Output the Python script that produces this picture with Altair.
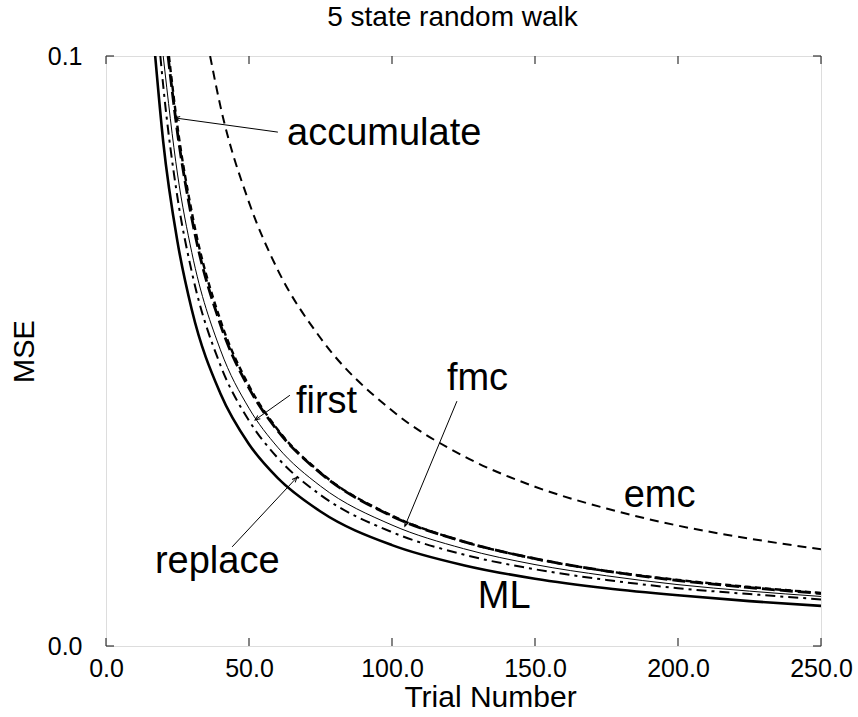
import math
import altair as alt
import pandas as pd

FONT = "Liberation Sans"
W, H = 715, 590

# ---- data ----
ml_n = [17.2, 20, 25, 30, 40, 50, 60, 75, 100, 125, 150, 175, 200, 225, 250]
ml_v = [0.100, 0.0855, 0.0685, 0.0570, 0.0428, 0.0342, 0.0285, 0.0228, 0.0171,
        0.0137, 0.0114, 0.0098, 0.0086, 0.0076, 0.0068]

replace_n = [19.0, 20, 25, 30, 40, 50, 60, 75, 100, 125, 150, 175, 200, 225, 250]
replace_v = [0.100, 0.0950, 0.0760, 0.0634, 0.0476, 0.0382, 0.0319, 0.0256, 0.0193,
             0.0155, 0.0130, 0.0112, 0.0098, 0.0088, 0.0079]

first_n = [20.0, 25, 30, 40, 50, 60, 75, 100, 125, 150, 175, 200, 225, 250]
first_v = [0.100, 0.0800, 0.0667, 0.0502, 0.0403, 0.0337, 0.0271, 0.0205,
           0.0165, 0.0138, 0.0119, 0.0104, 0.0093, 0.0084]

fmc_n = [21.7, 25, 30, 40, 50, 60, 75, 100, 125, 150, 175, 200, 225, 250]
fmc_v = [0.100, 0.0870, 0.0725, 0.0545, 0.0437, 0.0365, 0.0293, 0.0220,
         0.0177, 0.0148, 0.0127, 0.0111, 0.0099, 0.0089]

acc_n = [22.0, 25, 30, 40, 50, 60, 75, 100, 125, 150, 175, 200, 225, 250]
acc_v = [0.100, 0.0880, 0.0735, 0.0552, 0.0441, 0.0367, 0.0294, 0.0221,
         0.0177, 0.0148, 0.0127, 0.0112, 0.0100, 0.0090]

emc_n = [36.4, 40, 50, 60, 75, 100, 125, 150, 175, 200, 225, 250]
emc_v = [0.100, 0.0915, 0.0752, 0.0638, 0.0522, 0.0399, 0.0322, 0.0270,
         0.0233, 0.0204, 0.0182, 0.0164]

x_ticks = [0, 50, 100, 150, 200, 250]
y_ticks = [0.0, 0.1]

label_text = ["accumulate", "fmc", "first", "emc", "replace", "ML"]
label_n = [63.3, 119.2, 66.4, 181.0, 17.1, 130.0]
label_v = [0.0849, 0.0434, 0.0395, 0.0236, 0.0124, 0.0064]

arrow_tail_n = [60.1, 64.3, 122.7, 44.1]
arrow_tail_v = [0.0871, 0.0425, 0.0415, 0.0168]
arrow_head_n = [24.1, 52.1, 104.5, 66.8]
arrow_head_v = [0.0895, 0.0383, 0.0203, 0.0286]

xs = alt.Scale(domain=[0, 250], nice=False, zero=False)
ys = alt.Scale(domain=[0, 0.1], nice=False, zero=False)


def curve(n, v, dash, width):
    df = pd.DataFrame({"n": n, "mse": v})
    kw = dict(color="black", strokeWidth=width, interpolate="monotone", clip=True)
    if dash:
        kw["strokeDash"] = dash
    return alt.Chart(df).mark_line(**kw).encode(
        x=alt.X("n:Q", scale=xs), y=alt.Y("mse:Q", scale=ys)
    )


base_axis = alt.Chart(pd.DataFrame({"n": x_ticks, "v": [0.0] * len(x_ticks)})).mark_rule(opacity=0).encode(
    x=alt.X("n:Q", scale=xs,
            axis=alt.Axis(values=x_ticks, format=".1f", ticks=False, domain=False,
                          grid=False, title="Trial Number", labelFont=FONT,
                          labelFontSize=25, labelColor="black", labelPadding=10,
                          titleFont=FONT, titleFontSize=30, titleFontWeight="normal",
                          titleColor="black", titlePadding=1, labelFlush=False,
                          titleX=384, titleAlign="center")),
    y=alt.Y("v:Q", scale=ys,
            axis=alt.Axis(values=y_ticks, format=".1f", ticks=False, domain=False,
                          grid=False, title="MSE", labelFont=FONT, labelFontSize=25,
                          labelColor="black", labelPadding=24, titleFont=FONT,
                          titleFontSize=29, titleFontWeight="normal",
                          titleColor="black", titlePadding=8, labelFlush=False)),
)

tick_df = pd.DataFrame({"t": x_ticks})
bottom_ticks = alt.Chart(tick_df).mark_rule(color="#333", strokeWidth=1.2).encode(
    x=alt.X("t:Q", scale=xs), y=alt.value(H), y2=alt.value(H - 8))
top_ticks = alt.Chart(tick_df).mark_rule(color="#333", strokeWidth=1.2).encode(
    x=alt.X("t:Q", scale=xs), y=alt.value(0), y2=alt.value(8))
ytick_df = pd.DataFrame({"t": y_ticks})
left_ticks = alt.Chart(ytick_df).mark_rule(color="#333", strokeWidth=1.2).encode(
    y=alt.Y("t:Q", scale=ys), x=alt.value(0), x2=alt.value(8))
right_ticks = alt.Chart(ytick_df).mark_rule(color="#333", strokeWidth=1.2).encode(
    y=alt.Y("t:Q", scale=ys), x=alt.value(W), x2=alt.value(W - 8))

curves = [
    curve(ml_n, ml_v, None, 2.6),
    curve(replace_n, replace_v, [10, 5, 3, 5], 2.0),
    curve(first_n, first_v, None, 1.0),
    curve(acc_n, acc_v, [6, 4], 2.4),
    curve(fmc_n, fmc_v, [13, 5], 2.8),
    curve(emc_n, emc_v, [9, 6], 2.0),
]

lab_df = pd.DataFrame({"text": label_text, "n": label_n, "mse": label_v})
labels = alt.Chart(lab_df).mark_text(
    align="left", baseline="alphabetic", font=FONT, fontSize=38, color="black"
).encode(x=alt.X("n:Q", scale=xs), y=alt.Y("mse:Q", scale=ys), text="text:N")

angles = []
for tn, tv, hn, hv in zip(arrow_tail_n, arrow_tail_v, arrow_head_n, arrow_head_v):
    dx = (hn - tn) * W / 250.0
    dy = -(hv - tv) * H / 0.1
    angles.append(math.degrees(math.atan2(dy, dx)) % 360)

arr_df = pd.DataFrame({"tn": arrow_tail_n, "tv": arrow_tail_v,
                       "hn": arrow_head_n, "hv": arrow_head_v, "ang": angles})
arrow_lines = alt.Chart(arr_df).mark_rule(color="black", strokeWidth=1.0).encode(
    x=alt.X("tn:Q", scale=xs), y=alt.Y("tv:Q", scale=ys),
    x2="hn:Q", y2="hv:Q")
arrow_heads = alt.Chart(arr_df).mark_point(
    shape="M -1 -0.42 L 0 0 L -1 0.42", filled=False, color="black",
    strokeWidth=1.0, size=100, opacity=1
).encode(x=alt.X("hn:Q", scale=xs), y=alt.Y("hv:Q", scale=ys),
         angle=alt.Angle("ang:Q", scale=None))

chart = alt.layer(
    base_axis, *curves, arrow_lines, arrow_heads, labels,
    bottom_ticks, top_ticks, left_ticks, right_ticks
).properties(
    width=W, height=H,
    title=alt.TitleParams("5 state random walk", font=FONT, fontSize=28,
                          fontWeight="normal", color="black", anchor="middle",
                          dx=-11, offset=12),
    autosize=alt.AutoSizeParams(type="none"),
    padding={"left": 106, "top": 56, "right": 37, "bottom": 71},
).configure_view(
    stroke="#444", strokeWidth=1.6
).configure(background="white")

chart.save("out.html", embed_options={"renderer": "svg", "actions": False})
